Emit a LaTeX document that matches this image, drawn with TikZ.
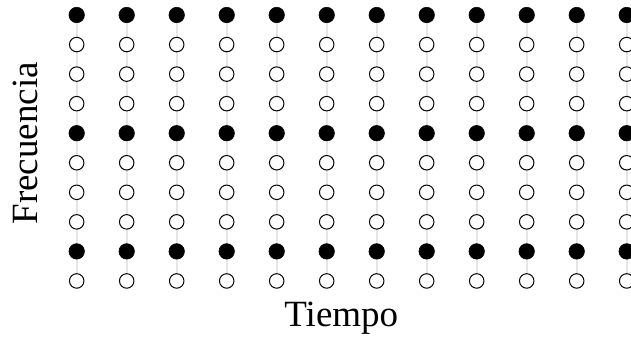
\documentclass[tikz,border=0pt]{standalone}
\usepackage{fontspec}
\setmainfont{Liberation Serif}
\begin{document}
\begin{tikzpicture}[x=1pt,y=-1pt,
  pilot/.style={circle,fill=black,draw=black,line width=0.6pt,minimum size=15.5pt,inner sep=0pt},
  datum/.style={circle,fill=white,draw=black,line width=1pt,minimum size=14.5pt,inner sep=0pt},
  grid line/.style={draw=black!10,line width=2pt},
  axis label/.style={font=\fontsize{37}{40}\selectfont,inner sep=0pt,anchor=base}]
\useasboundingbox (0,0) rectangle (631,340);
\foreach \c in {0,...,11}{
  \pgfmathsetmacro{\xx}{76.7+50*\c}
  \coordinate (top\c) at (\xx,15);
  \coordinate (bot\c) at (\xx,281);
  \draw[grid line] (top\c) -- (bot\c);
  \foreach \r in {0,...,9}{
    \pgfmathsetmacro{\yy}{15+29.55*\r}
    \ifnum\r=0 \node[pilot] (n\c-\r) at (\xx,\yy) {};
    \else\ifnum\r=4 \node[pilot] (n\c-\r) at (\xx,\yy) {};
    \else\ifnum\r=8 \node[pilot] (n\c-\r) at (\xx,\yy) {};
    \else \node[datum] (n\c-\r) at (\xx,\yy) {};
    \fi\fi\fi
  }
}
\node[axis label] (tiempo) at (341.3,326.7) {Tiempo};
\node[axis label,rotate=90] (frec) at (37,143.3) {Frecuencia};
\end{tikzpicture}
\end{document}
